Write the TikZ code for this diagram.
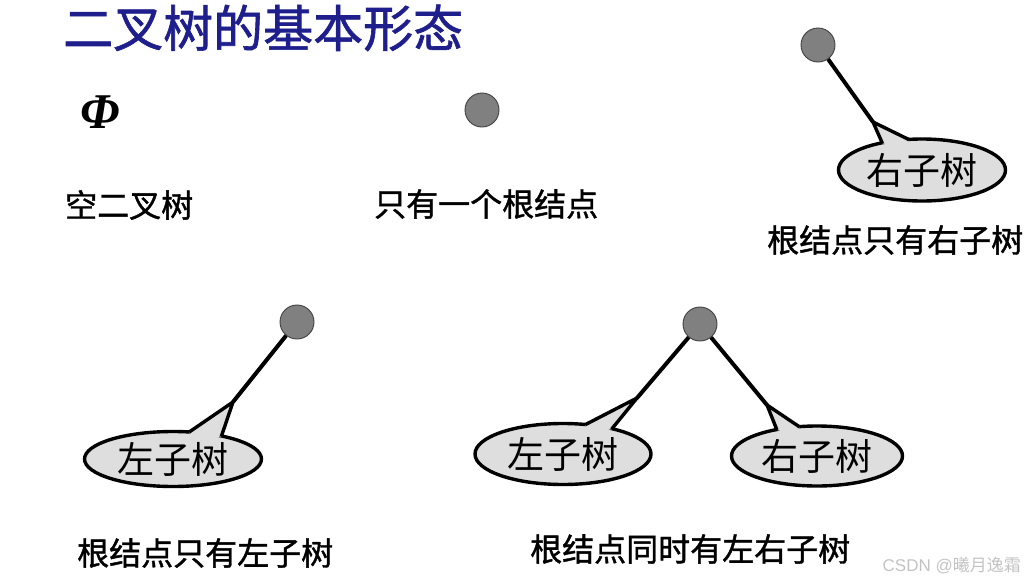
\documentclass[tikz,border=0pt]{standalone}
\usepackage{fontspec}
\setmainfont{Liberation Serif}
\newfontfamily\cjk{Noto Sans CJK SC}
\newfontfamily\cjkbold[FakeBold=1.2]{Noto Sans CJK SC}
\newfontfamily\latsans{Liberation Sans}
\usetikzlibrary{shapes.geometric,calc}
\definecolor{dotgray}{RGB}{128,128,128}
\definecolor{bubblegray}{RGB}{222,222,222}
\definecolor{titleblue}{RGB}{30,30,140}
\definecolor{markgray}{RGB}{195,195,195}
\begin{document}
\begin{tikzpicture}[x=1pt,y=-1pt,
  rootdot/.style={circle,draw=black!75,line width=0.9pt,fill=dotgray,minimum size=34pt,inner sep=0pt},
  bubble/.style={ellipse,draw=black,line width=3.4pt,fill=bubblegray,inner sep=0pt,font=\cjk\fontsize{37}{39}\selectfont},
  branch/.style={line width=4pt,black},
  tailedge/.style={line width=3.4pt,black,line join=miter},
  caption/.style={anchor=west,inner sep=0pt,font=\cjkbold\fontsize{32}{34}\selectfont}
]
\useasboundingbox (0,0) rectangle (1026,584);

% title
\node[anchor=west,inner sep=0pt,text=titleblue,font=\cjkbold\fontsize{50}{52}\selectfont] (title) at (63,28) {二叉树的基本形态};

% empty tree
\node[inner sep=0pt,font=\fontsize{50}{52}\selectfont\bfseries\itshape] (phi) at (100,112) {Φ};
\node[caption] (c1) at (65,205) {空二叉树};

% only root
\node[rootdot] (r2) at (482,110) {};
\node[caption] (c2) at (374,204) {只有一个根结点};

% root with right subtree
\node[rootdot] (r3) at (818,45) {};
\node[bubble,minimum width=167pt,minimum height=62pt] (b3) at (922,170) {右子树};
\coordinate (t3) at (873,122);
\coordinate (b3a) at ($(b3.center)!0.94!(b3.146)$);
\coordinate (b3b) at ($(b3.center)!0.94!(b3.113)$);
\coordinate (b3c) at ($(b3.center)!0.7!(b3.128)$);
\fill[bubblegray] (b3a) -- (t3) -- (b3b) -- (b3c) -- cycle;
\draw[tailedge] (b3a) -- (t3) -- (b3b);
\draw[branch] (r3) -- (t3);
\node[caption] (c3) at (767,240) {根结点只有右子树};

% root with left subtree
\node[rootdot] (r4) at (297,322) {};
\node[bubble,minimum width=177pt,minimum height=55pt] (b4) at (173,459) {左子树};
\coordinate (t4) at (233,402);
\coordinate (b4a) at ($(b4.center)!0.94!(b4.59)$);
\coordinate (b4b) at ($(b4.center)!0.94!(b4.25)$);
\coordinate (b4c) at ($(b4.center)!0.7!(b4.42)$);
\fill[bubblegray] (b4a) -- (t4) -- (b4b) -- (b4c) -- cycle;
\draw[tailedge] (b4a) -- (t4) -- (b4b);
\draw[branch] (r4) -- (t4);
\node[caption] (c4) at (77,553) {根结点只有左子树};

% root with both subtrees
\node[rootdot] (r5) at (700,324) {};
\node[bubble,minimum width=176pt,minimum height=61pt] (b5l) at (563,454) {左子树};
\node[bubble,minimum width=171pt,minimum height=60pt] (b5r) at (817,456) {右子树};
\coordinate (t5l) at (637,398);
\coordinate (t5r) at (767,405);
\coordinate (b5la) at ($(b5l.center)!0.94!(b5l.53)$);
\coordinate (b5lb) at ($(b5l.center)!0.94!(b5l.27)$);
\coordinate (b5lc) at ($(b5l.center)!0.7!(b5l.40)$);
\coordinate (b5ra) at ($(b5r.center)!0.94!(b5r.147)$);
\coordinate (b5rb) at ($(b5r.center)!0.94!(b5r.121)$);
\coordinate (b5rc) at ($(b5r.center)!0.7!(b5r.134)$);
\fill[bubblegray] (b5la) -- (t5l) -- (b5lb) -- (b5lc) -- cycle;
\draw[tailedge] (b5la) -- (t5l) -- (b5lb);
\fill[bubblegray] (b5ra) -- (t5r) -- (b5rb) -- (b5rc) -- cycle;
\draw[tailedge] (b5ra) -- (t5r) -- (b5rb);
\draw[branch] (r5) -- (t5l);
\draw[branch] (r5) -- (t5r);
\node[caption] (c5) at (530,549) {根结点同时有左右子树};

% watermark
\node[anchor=east,inner sep=0pt,text=markgray,font=\cjk\fontsize{17}{18}\selectfont] (wm) at (1021,566) {{\latsans CSDN @}曦月逸霜};
\end{tikzpicture}
\end{document}
